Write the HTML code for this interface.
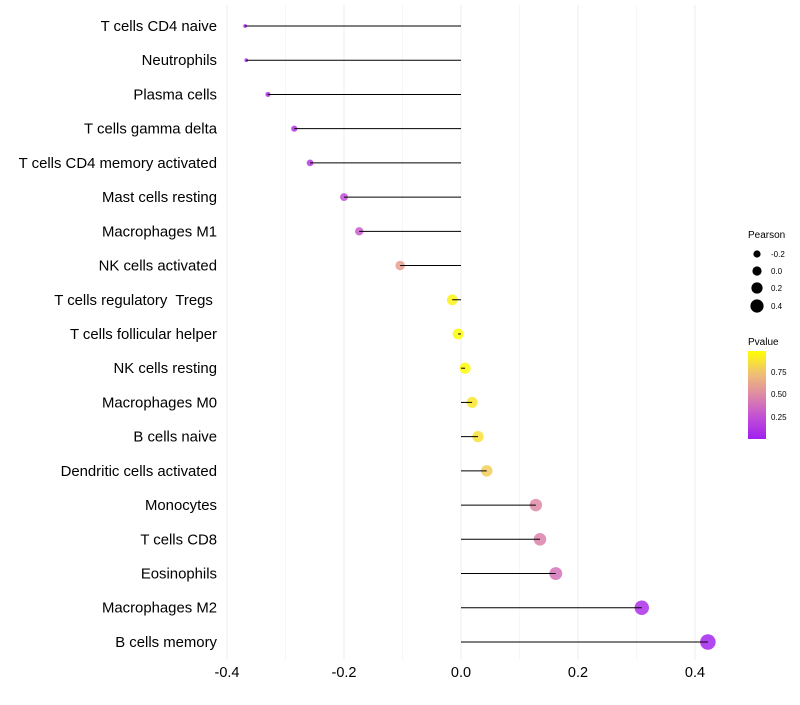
<!DOCTYPE html>
<html><head><meta charset="utf-8"><style>
body{margin:0;background:#fff;font-family:"Liberation Sans",Arial,sans-serif}
svg text{font-family:"Liberation Sans",Arial,sans-serif}
</style></head><body>
<svg id="chart" width="800" height="700">
<defs><linearGradient id="pg" x1="0" y1="1" x2="0" y2="0">
<stop offset="0" stop-color="#a020f0"/><stop offset="0.25" stop-color="#c24fd6"/><stop offset="0.5" stop-color="#de89a6"/><stop offset="0.75" stop-color="#f0c172"/><stop offset="1" stop-color="#ffff00"/></linearGradient></defs>
<g id="grid"></g><g id="marks"></g><g id="labels"></g>
<g>
<text x="748" y="238" font-size="10">Pearson</text>
<circle cx="757" cy="254" r="3.6" fill="#000"/><text x="771" y="257" font-size="8">-0.2</text>
<circle cx="757" cy="271" r="4.6" fill="#000"/><text x="771" y="274" font-size="8">0.0</text>
<circle cx="757" cy="288" r="5.6" fill="#000"/><text x="771" y="291" font-size="8">0.2</text>
<circle cx="757" cy="306" r="6.6" fill="#000"/><text x="771" y="309" font-size="8">0.4</text>
</g>
<g>
<text x="748" y="345" font-size="10">Pvalue</text>
<rect x="748" y="351" width="18" height="88" fill="url(#pg)"/>
<text x="771" y="375" font-size="8">0.75</text>
<text x="771" y="397" font-size="8">0.50</text>
<text x="771" y="420" font-size="8">0.25</text>
</g>
</svg>
<script>
const cells=["T cells CD4 naive","Neutrophils","Plasma cells","T cells gamma delta","T cells CD4 memory activated","Mast cells resting","Macrophages M1","NK cells activated","T cells regulatory  Tregs ","T cells follicular helper","NK cells resting","Macrophages M0","B cells naive","Dendritic cells activated","Monocytes","T cells CD8","Eosinophils","Macrophages M2","B cells memory"];
const pearson=[-0.369,-0.367,-0.330,-0.285,-0.258,-0.200,-0.174,-0.104,-0.015,-0.005,0.007,0.019,0.029,0.044,0.128,0.135,0.162,0.309,0.422];
const pvalue=[0.02,0.02,0.05,0.1,0.15,0.25,0.3,0.6,0.95,0.98,0.98,0.9,0.88,0.8,0.5,0.47,0.4,0.08,0.03];
const ticks=[-0.4,-0.2,0.0,0.2,0.4];
const NS="http://www.w3.org/2000/svg";
const x=v=>461+v*585;
const y=i=>26+i*34.22;
const rad=v=>Math.sqrt(Math.max(3,30+v*72));
const stops=[[0,[160,32,240]],[0.25,[194,79,214]],[0.5,[222,137,166]],[0.75,[240,193,114]],[1,[255,255,0]]];
function col(p){for(let k=1;k<stops.length;k++){if(p<=stops[k][0]){const a=stops[k-1],b=stops[k],t=(p-a[0])/(b[0]-a[0]);return "rgb("+a[1].map((c,j)=>Math.round(c+(b[1][j]-c)*t)).join(",")+")";}}return "rgb(255,255,0)";}
function mk(t,at,par){const e=document.createElementNS(NS,t);for(const k in at)e.setAttribute(k,at[k]);document.getElementById(par).appendChild(e);return e;}
for(let v=-0.3;v<=0.45;v+=0.2){const g=mk("line",{x1:x(v),x2:x(v),y1:5,y2:660,stroke:"#f6f6f6","stroke-width":1},"grid");

}
ticks.forEach(t=>{const g=mk("line",{x1:x(t),x2:x(t),y1:5,y2:660,stroke:"#eeeeee","stroke-width":1},"grid");


const l=mk("text",{x:x(t),y:677,"font-size":14.5,"text-anchor":"middle",fill:"#000"},"labels");l.textContent=t.toFixed(1);

});
cells.forEach((c,i)=>{
const pt=mk("circle",{cx:x(pearson[i]),cy:y(i),r:rad(pearson[i]),fill:col(pvalue[i]),"fill-opacity":0.85},"marks");


const ln=mk("line",{x1:x(0),x2:x(pearson[i]),y1:y(i),y2:y(i),stroke:"#000","stroke-width":1},"marks");


const l=mk("text",{x:217,y:y(i)+5,"font-size":14.9,"text-anchor":"end",fill:"#000"},"labels");l.textContent=c;l.setAttribute("xml:space","preserve");l.style.whiteSpace="pre";


});
</script>
</body></html>
